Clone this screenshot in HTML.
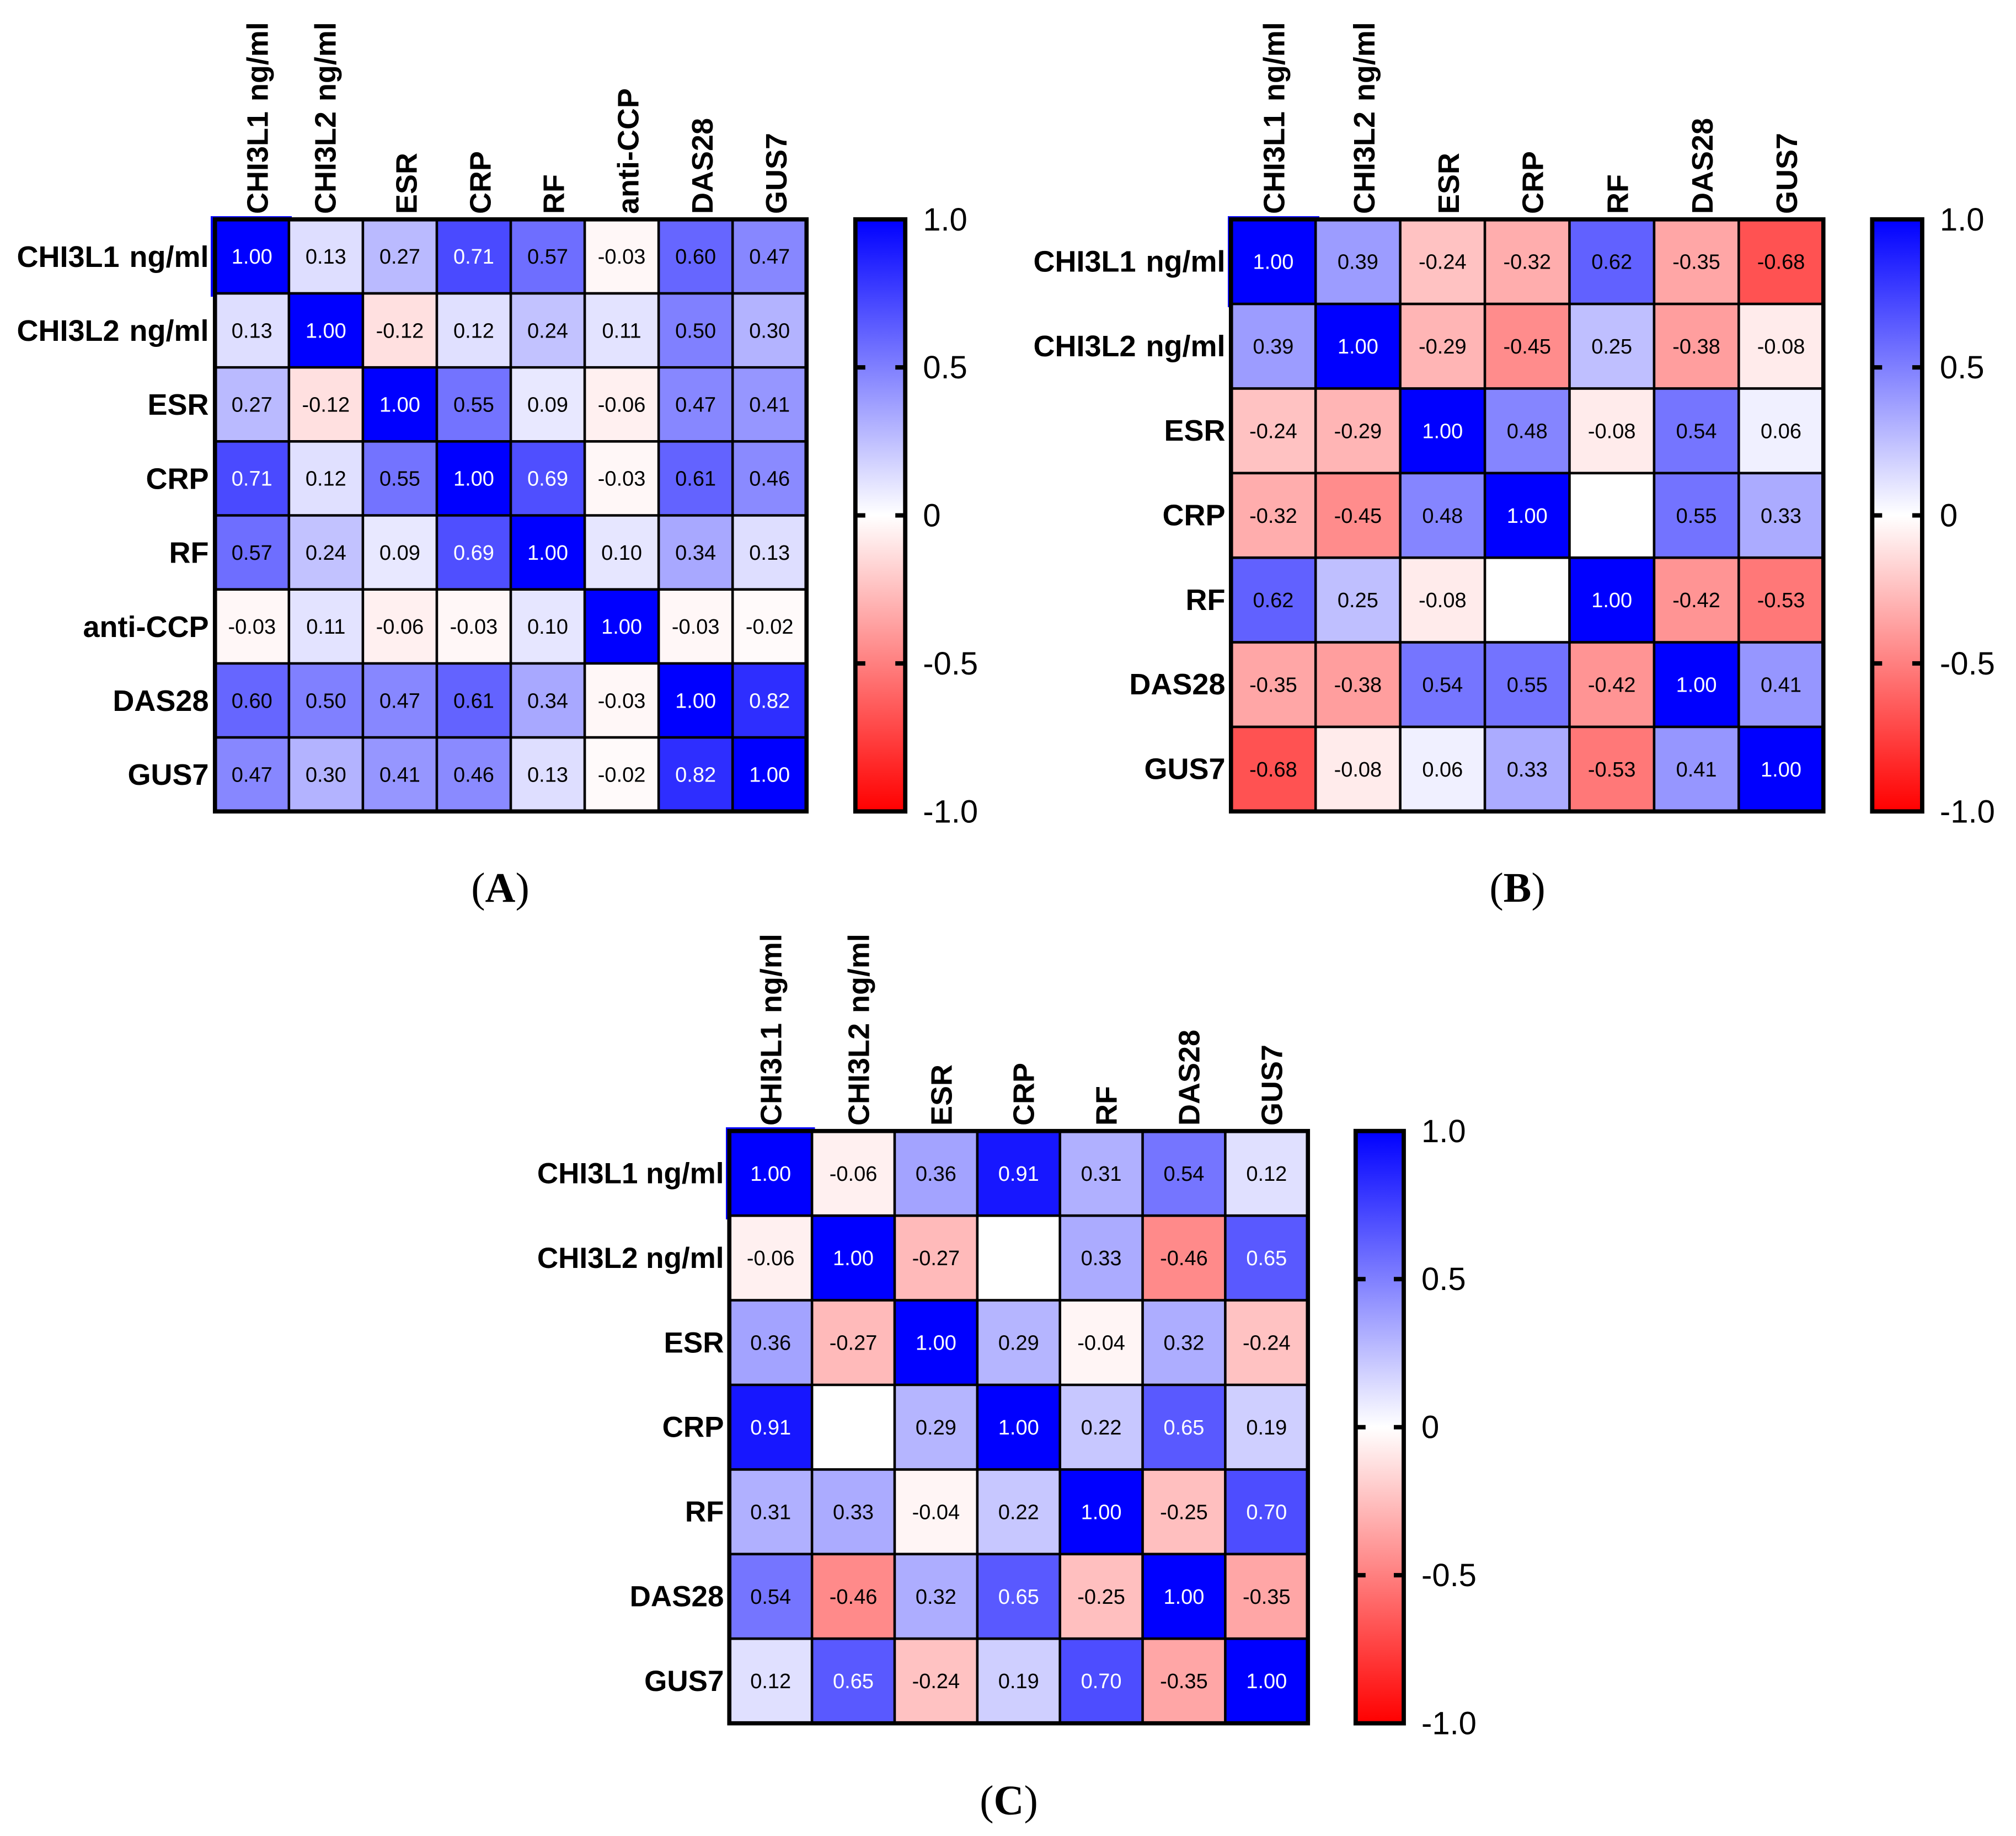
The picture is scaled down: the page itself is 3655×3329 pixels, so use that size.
<!DOCTYPE html>
<html lang="en">
<head>
<meta charset="utf-8">
<title>Correlation heatmaps A, B and C</title>
<style>
  html, body { margin: 0; padding: 0; background: #fff; }
  svg { display: block; }
  text { font-family: "Liberation Sans", Arial, sans-serif; }
  .caption { font-family: "Liberation Serif", "Times New Roman", serif; font-size: 76px; fill: #000; text-anchor: middle; }
</style>
</head>
<body>
<svg id="figure" xmlns="http://www.w3.org/2000/svg" width="3655" height="3329" viewBox="0 0 3655 3329">
  <defs>
    <linearGradient id="legend-gradient" x1="0" y1="0" x2="0" y2="1">
      <stop offset="0" stop-color="#0000ff"/>
      <stop offset="0.5" stop-color="#ffffff"/>
      <stop offset="1" stop-color="#ff0000"/>
    </linearGradient>
  </defs>
  <rect x="0" y="0" width="3655" height="3329" fill="#ffffff"/>
  <text class="caption" x="907" y="1635">(<tspan font-weight="bold">A</tspan>)</text>
  <text class="caption" x="2751" y="1635">(<tspan font-weight="bold">B</tspan>)</text>
  <text class="caption" x="1829" y="3290">(<tspan font-weight="bold">C</tspan>)</text>
</svg>
<script>
// ---- chart data ----
const categoriesA = ["CHI3L1 ng/ml", "CHI3L2 ng/ml", "ESR", "CRP", "RF", "anti-CCP", "DAS28", "GUS7"];
const valuesA = [
  [1.00, 0.13, 0.27, 0.71, 0.57, -0.03, 0.60, 0.47],
  [0.13, 1.00, -0.12, 0.12, 0.24, 0.11, 0.50, 0.30],
  [0.27, -0.12, 1.00, 0.55, 0.09, -0.06, 0.47, 0.41],
  [0.71, 0.12, 0.55, 1.00, 0.69, -0.03, 0.61, 0.46],
  [0.57, 0.24, 0.09, 0.69, 1.00, 0.10, 0.34, 0.13],
  [-0.03, 0.11, -0.06, -0.03, 0.10, 1.00, -0.03, -0.02],
  [0.60, 0.50, 0.47, 0.61, 0.34, -0.03, 1.00, 0.82],
  [0.47, 0.30, 0.41, 0.46, 0.13, -0.02, 0.82, 1.00]
];
const categoriesB = ["CHI3L1 ng/ml", "CHI3L2 ng/ml", "ESR", "CRP", "RF", "DAS28", "GUS7"];
const valuesB = [
  [1.00, 0.39, -0.24, -0.32, 0.62, -0.35, -0.68],
  [0.39, 1.00, -0.29, -0.45, 0.25, -0.38, -0.08],
  [-0.24, -0.29, 1.00, 0.48, -0.08, 0.54, 0.06],
  [-0.32, -0.45, 0.48, 1.00, null, 0.55, 0.33],
  [0.62, 0.25, -0.08, null, 1.00, -0.42, -0.53],
  [-0.35, -0.38, 0.54, 0.55, -0.42, 1.00, 0.41],
  [-0.68, -0.08, 0.06, 0.33, -0.53, 0.41, 1.00]
];
const categoriesC = ["CHI3L1 ng/ml", "CHI3L2 ng/ml", "ESR", "CRP", "RF", "DAS28", "GUS7"];
const valuesC = [
  [1.00, -0.06, 0.36, 0.91, 0.31, 0.54, 0.12],
  [-0.06, 1.00, -0.27, null, 0.33, -0.46, 0.65],
  [0.36, -0.27, 1.00, 0.29, -0.04, 0.32, -0.24],
  [0.91, null, 0.29, 1.00, 0.22, 0.65, 0.19],
  [0.31, 0.33, -0.04, 0.22, 1.00, -0.25, 0.70],
  [0.54, -0.46, 0.32, 0.65, -0.25, 1.00, -0.35],
  [0.12, 0.65, -0.24, 0.19, 0.70, -0.35, 1.00]
];
const legendTicks = [1, 0.5, 0, -0.5, -1];
const legendTickLabels = ["1.0", "0.5", "0", "-0.5", "-1.0"];

// ---- layout ----
const panelLayouts = [
  { id: "a", categories: categoriesA, values: valuesA,
    left: 389.75, right: 1462.25, top: 397.75, bottom: 1471.25,
    barLeft: 1550.8, barRight: 1641.2, labelRight: 378.5, rowBaseline: 19,
    rowFontSize: 54, rowWordSpacing: 3,
    colLabelNudge: [28.5, 17.9, 30.5, 30.5, 29.5, 30.5, 30.9, 30.9],
    cornerX: 382, cornerY: 392, cornerW: 147, cornerH: 146 },
  { id: "b", categories: categoriesB, values: valuesB,
    left: 2231.75, right: 3305.75, top: 397.75, bottom: 1471.25,
    barLeft: 3394.3, barRight: 3484.9, labelRight: 2221.5, rowBaseline: 18,
    rowFontSize: 54, rowWordSpacing: 3,
    colLabelNudge: [19.8, 29.9, 29.5, 28.9, 29.1, 29.5, 29.2],
    cornerX: 2226, cornerY: 392, cornerW: 166, cornerH: 165 },
  { id: "c", categories: categoriesC, values: valuesC,
    left: 1322.25, right: 2371.25, top: 2050.75, bottom: 3124.65,
    barLeft: 2457.8, barRight: 2545, labelRight: 1312.5, rowBaseline: 18,
    rowFontSize: 53, rowWordSpacing: 0,
    colLabelNudge: [19.5, 28.5, 28.5, 27.8, 27.9, 27.8, 28.1],
    cornerX: 1316, cornerY: 2044, cornerW: 161.5, cornerH: 167 }
];

const SVG_NS = "http://www.w3.org/2000/svg";
const figure = document.getElementById("figure");

function make(tag, attrs, parent) {
  const el = document.createElementNS(SVG_NS, tag);
  for (const key in attrs) el.setAttribute(key, attrs[key]);
  parent.appendChild(el);
  return el;
}

// Diverging colour scale: -1 red, 0 white, +1 blue.
function cellColor(v) {
  const t = Math.max(-1, Math.min(1, v));
  const fade = Math.round(255 * (1 - Math.abs(t)));
  return t >= 0 ? `rgb(${fade},${fade},255)` : `rgb(255,${fade},${fade})`;
}

function drawPanel(p) {
  const n = p.categories.length;
  const xScale = i => p.left + (p.right - p.left) * i / n;
  const yScale = i => p.top + (p.bottom - p.top) * i / n;
  const legendScale = v => p.top + (p.bottom - p.top) * (1 - v) / 2;

  const group = make("g", {}, figure);
  
  

  // blue outline peeking out around the first cell
  const corner = make("rect", { x: p.cornerX, y: p.cornerY, width: p.cornerW, height: p.cornerH, fill: "#0000ff" }, group);
  
  

  // cells
  p.values.forEach((row, r) => {
    row.forEach((v, c) => {
      const cell = make("rect", {
        x: xScale(c), y: yScale(r),
        width: xScale(c + 1) - xScale(c), height: yScale(r + 1) - yScale(r),
        fill: v === null ? "#ffffff" : cellColor(v)
      }, group);
      
      
    });
  });

  // inner grid lines
  for (let i = 1; i < n; i++) {
    const vLine = make("line", { x1: xScale(i), x2: xScale(i), y1: p.top, y2: p.bottom, stroke: "#000", "stroke-width": 4.6 }, group);
    
    
    const hLine = make("line", { x1: p.left, x2: p.right, y1: yScale(i), y2: yScale(i), stroke: "#000", "stroke-width": 4.6 }, group);
    
    
  }

  // frame
  const frame = make("rect", {
    x: p.left, y: p.top, width: p.right - p.left, height: p.bottom - p.top,
    fill: "none", stroke: "#000", "stroke-width": 7.6
  }, group);
  
  

  // printed values
  p.values.forEach((row, r) => {
    row.forEach((v, c) => {
      if (v === null) return;
      const label = make("text", {
        x: (xScale(c) + xScale(c + 1)) / 2,
        y: (yScale(r) + yScale(r + 1)) / 2 + 13.3,
        "text-anchor": "middle", "font-size": 38,
        fill: v >= 0.63 ? "#ffffff" : "#000000"
      }, group);
      label.textContent = v.toFixed(2);
      
      
    });
  });

  // axis labels
  p.categories.forEach((name, i) => {
    const rowLabel = make("text", {
      x: p.labelRight, y: (yScale(i) + yScale(i + 1)) / 2 + p.rowBaseline,
      "text-anchor": "end", "font-size": p.rowFontSize, "font-weight": "bold", "word-spacing": p.rowWordSpacing, fill: "#000"
    }, group);
    rowLabel.textContent = name;
    
    

    const cx = (xScale(i) + xScale(i + 1)) / 2 + p.colLabelNudge[i];
    const cy = p.top - 9.75;
    const colLabel = make("text", {
      x: cx, y: cy, transform: `rotate(-90 ${cx} ${cy})`,
      "text-anchor": "start", "font-size": 54, "font-weight": "bold", "word-spacing": 3, fill: "#000"
    }, group);
    colLabel.textContent = name;
    
    
  });

  // legend colour bar
  const bar = make("rect", {
    x: p.barLeft, y: p.top, width: p.barRight - p.barLeft, height: p.bottom - p.top,
    fill: "url(#legend-gradient)", stroke: "#000", "stroke-width": 7.8
  }, group);
  
  

  legendTicks.forEach((v, i) => {
    const y = legendScale(v);
    if (Math.abs(v) < 1) {
      const leftTick = make("line", { x1: p.barLeft, x2: p.barLeft + 18, y1: y, y2: y, stroke: "#000", "stroke-width": 8 }, group);
      
      
      const rightTick = make("line", { x1: p.barRight - 18, x2: p.barRight, y1: y, y2: y, stroke: "#000", "stroke-width": 8 }, group);
      
      
    }
    const tickLabel = make("text", {
      x: p.barRight + 32, y: y + 20,
      "text-anchor": "start", "font-size": 58, fill: "#000"
    }, group);
    tickLabel.textContent = legendTickLabels[i];
    
    
  });
}

panelLayouts.forEach(drawPanel);
</script>
</body>
</html>
